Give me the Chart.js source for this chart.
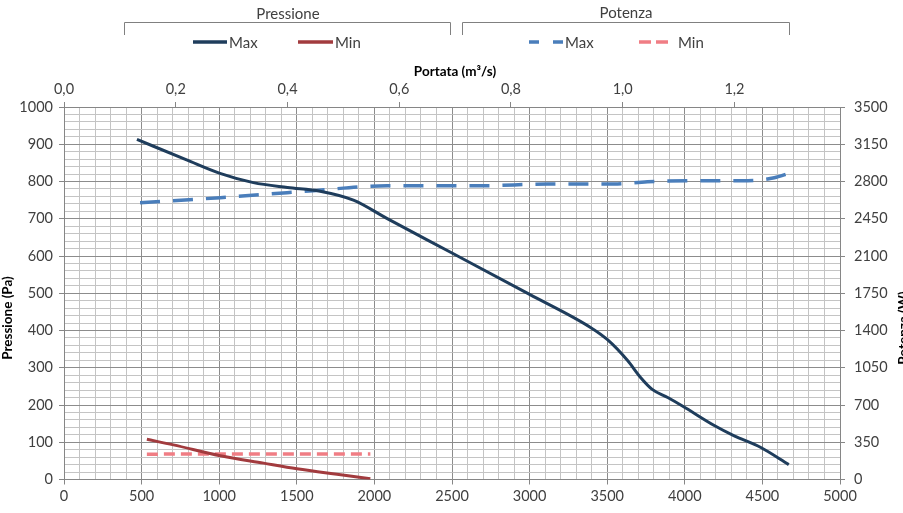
<!DOCTYPE html>
<html><head><meta charset="utf-8">
<script src="https://cdn.jsdelivr.net/npm/chart.js@4/dist/chart.umd.min.js"></script>
<style>html,body{margin:0;padding:0;background:#fff}#wrap{width:903px;height:513px;position:relative}</style>
</head><body><div id="wrap"><canvas id="c" width="903" height="513"></canvas></div>
<script>
// Portata (m3/h) and values
const pressMaxX = [470, 790, 1005, 1220, 1440, 1650, 1865, 2080, 2500, 3000, 3390, 3500, 3630, 3715, 3790, 3890, 3990, 4190, 4315, 4490, 4670];
const pressMaxY = [913, 858, 822, 797, 784, 774, 750, 701, 608, 497, 409, 376, 320, 274, 242, 220, 196, 145, 118, 86, 40];
const pressMinX = [534, 705, 1006, 1286, 1501, 1759, 1974];
const pressMinY = [108, 93, 64, 44, 29, 14, 2];
const potMaxX = [490, 1006, 1437, 1606, 2082, 2684, 3114, 3544, 3759, 4189, 4405, 4577, 4671];
const potMaxY = [2601, 2648, 2695, 2714, 2760, 2760, 2776, 2776, 2798, 2807, 2807, 2836, 2877];
const potMinX = [534, 1000, 1500, 1974];
const potMinY = [238, 240, 240, 240];
const groupLabels = ['Pressione', 'Potenza'];
const seriesLabels = ['Max', 'Min'];
const xTitleTop = 'Portata (m³/s)';
const yTitleLeft = 'Pressione (Pa)';
const yTitleRight = 'Potenza (W)';

const pts = (xs, ys) => xs.map((x, i) => ({x: x, y: ys[i]}));
const FONT = 'Lato, "Open Sans", sans-serif';
const TXT = '#404040';
const MAJOR = '#8c8c8c', MINOR = '#c4c4c4', AXIS = '#868686';
const C_NAVY = '#1f3d5c', C_RED = '#a23b3e', C_BLUE = '#4a7ebb', C_PINK = '#f07d84';

const overlay = {
  id: 'overlay',
  afterDraw(chart) {
    const ctx = chart.ctx;
    ctx.save();
    ctx.fillStyle = TXT;
    ctx.textBaseline = 'middle';
    ctx.textAlign = 'center';
    ctx.font = '15px ' + FONT;
    ctx.fillText(groupLabels[0], 288, 14);
    ctx.fillText(groupLabels[1], 626, 13);
    // brackets
    ctx.strokeStyle = '#808080'; ctx.lineWidth = 1;
    [[124, 450], [462, 789]].forEach(([a, b]) => {
      ctx.beginPath();
      ctx.moveTo(a + 0.5, 35); ctx.lineTo(a + 0.5, 22.5); ctx.lineTo(b + 0.5, 22.5); ctx.lineTo(b + 0.5, 35);
      ctx.stroke();
    });
    // legend items
    const item = (x1, x2, col, dash, label, tx) => {
      ctx.beginPath(); ctx.strokeStyle = col; ctx.lineWidth = 3.5; ctx.lineCap = 'butt';
      ctx.setLineDash(dash); ctx.moveTo(x1, 42); ctx.lineTo(x2, 42); ctx.stroke();
      ctx.setLineDash([]);
      ctx.textAlign = 'left'; ctx.fillStyle = TXT; ctx.font = '15px ' + FONT;
      ctx.fillText(label, tx, 43);
    };
    item(193, 227, C_NAVY, [], seriesLabels[0], 229);
    item(298, 333, C_RED, [], seriesLabels[1], 335);
    item(529, 564, C_BLUE, [10, 14], seriesLabels[0], 565);
    item(639, 669, C_PINK, [12, 5], seriesLabels[1], 678);
    // axis titles
    ctx.font = 'bold 13.5px ' + FONT; ctx.fillStyle = '#000'; ctx.textAlign = 'center';
    ctx.fillText(xTitleTop, 455, 72);
    ctx.save(); ctx.translate(8, 318); ctx.rotate(-Math.PI / 2); ctx.fillText(yTitleLeft, 0, 0); ctx.restore();
    ctx.save(); ctx.translate(904, 328); ctx.rotate(-Math.PI / 2); ctx.fillText(yTitleRight, 0, 0); ctx.restore();
    ctx.restore();
  }
};

const tickFont = {family: FONT, size: 14.5};
new Chart(document.getElementById('c'), {
  type: 'line',
  data: {
    datasets: [
      {label: 'Pressione Max', data: pts(pressMaxX, pressMaxY), borderColor: C_NAVY, borderWidth: 3, yAxisID: 'y', xAxisID: 'x'},
      {label: 'Pressione Min', data: pts(pressMinX, pressMinY), borderColor: C_RED, borderWidth: 3, yAxisID: 'y', xAxisID: 'x'},
      {label: 'Potenza Max', data: pts(potMaxX, potMaxY), borderColor: C_BLUE, borderWidth: 3.5, borderDash: [20, 13], yAxisID: 'y1', xAxisID: 'x'},
      {label: 'Potenza Min', data: pts(potMinX, potMinY), borderColor: C_PINK, borderWidth: 3.5, borderDash: [11, 6], yAxisID: 'y1', xAxisID: 'x'}
    ]
  },
  options: {
    responsive: false, animation: false, devicePixelRatio: 1,
    layout: {padding: 0},
    elements: {point: {radius: 0}, line: {cubicInterpolationMode: 'monotone', borderCapStyle: 'butt'}},
    plugins: {legend: {display: false}, tooltip: {enabled: false}},
    scales: {
      x: {
        type: 'linear', position: 'bottom', min: 0, max: 5000,
        ticks: {stepSize: 100, maxTicksLimit: 1000, autoSkip: false, maxRotation: 0, color: TXT, font: tickFont, padding: 3,
          callback: v => (v % 500 === 0 ? String(v) : '')},
        grid: {color: c => (c.tick && c.tick.value % 500 === 0 ? MAJOR : MINOR), tickColor: c => (c.tick && c.tick.value % 500 === 0 ? AXIS : 'rgba(0,0,0,0)'), tickLength: 5, lineWidth: 1},
        border: {color: AXIS},
        afterFit: s => { s.height = 33.5; }
      },
      x2: {
        type: 'linear', position: 'top', min: 0, max: 5000 / 3600,
        ticks: {stepSize: 0.2, includeBounds: false, maxRotation: 0, color: TXT, font: tickFont, padding: 4,
          callback: v => v.toFixed(1).replace('.', ',')},
        grid: {drawOnChartArea: false, tickColor: AXIS, tickLength: 5},
        border: {color: AXIS},
        afterFit: s => { s.height = 107; }
      },
      y: {
        type: 'linear', position: 'left', min: 0, max: 1000,
        ticks: {stepSize: 20, maxTicksLimit: 1000, autoSkip: false, color: TXT, font: tickFont, padding: 6,
          callback: v => (v % 100 === 0 ? String(v) : '')},
        grid: {color: c => (c.tick && c.tick.value % 100 === 0 ? MAJOR : MINOR), tickColor: c => (c.tick && c.tick.value % 100 === 0 ? AXIS : 'rgba(0,0,0,0)'), tickLength: 5},
        border: {color: AXIS},
        afterFit: s => { s.width = 64; }
      },
      y1: {
        type: 'linear', position: 'right', min: 0, max: 3500,
        ticks: {stepSize: 350, color: TXT, font: tickFont, padding: 9, callback: v => String(v)},
        grid: {drawOnChartArea: false, tickColor: AXIS, tickLength: 5},
        border: {color: AXIS},
        afterFit: s => { s.width = 63; }
      }
    }
  },
  plugins: [overlay]
});
</script></body></html>
